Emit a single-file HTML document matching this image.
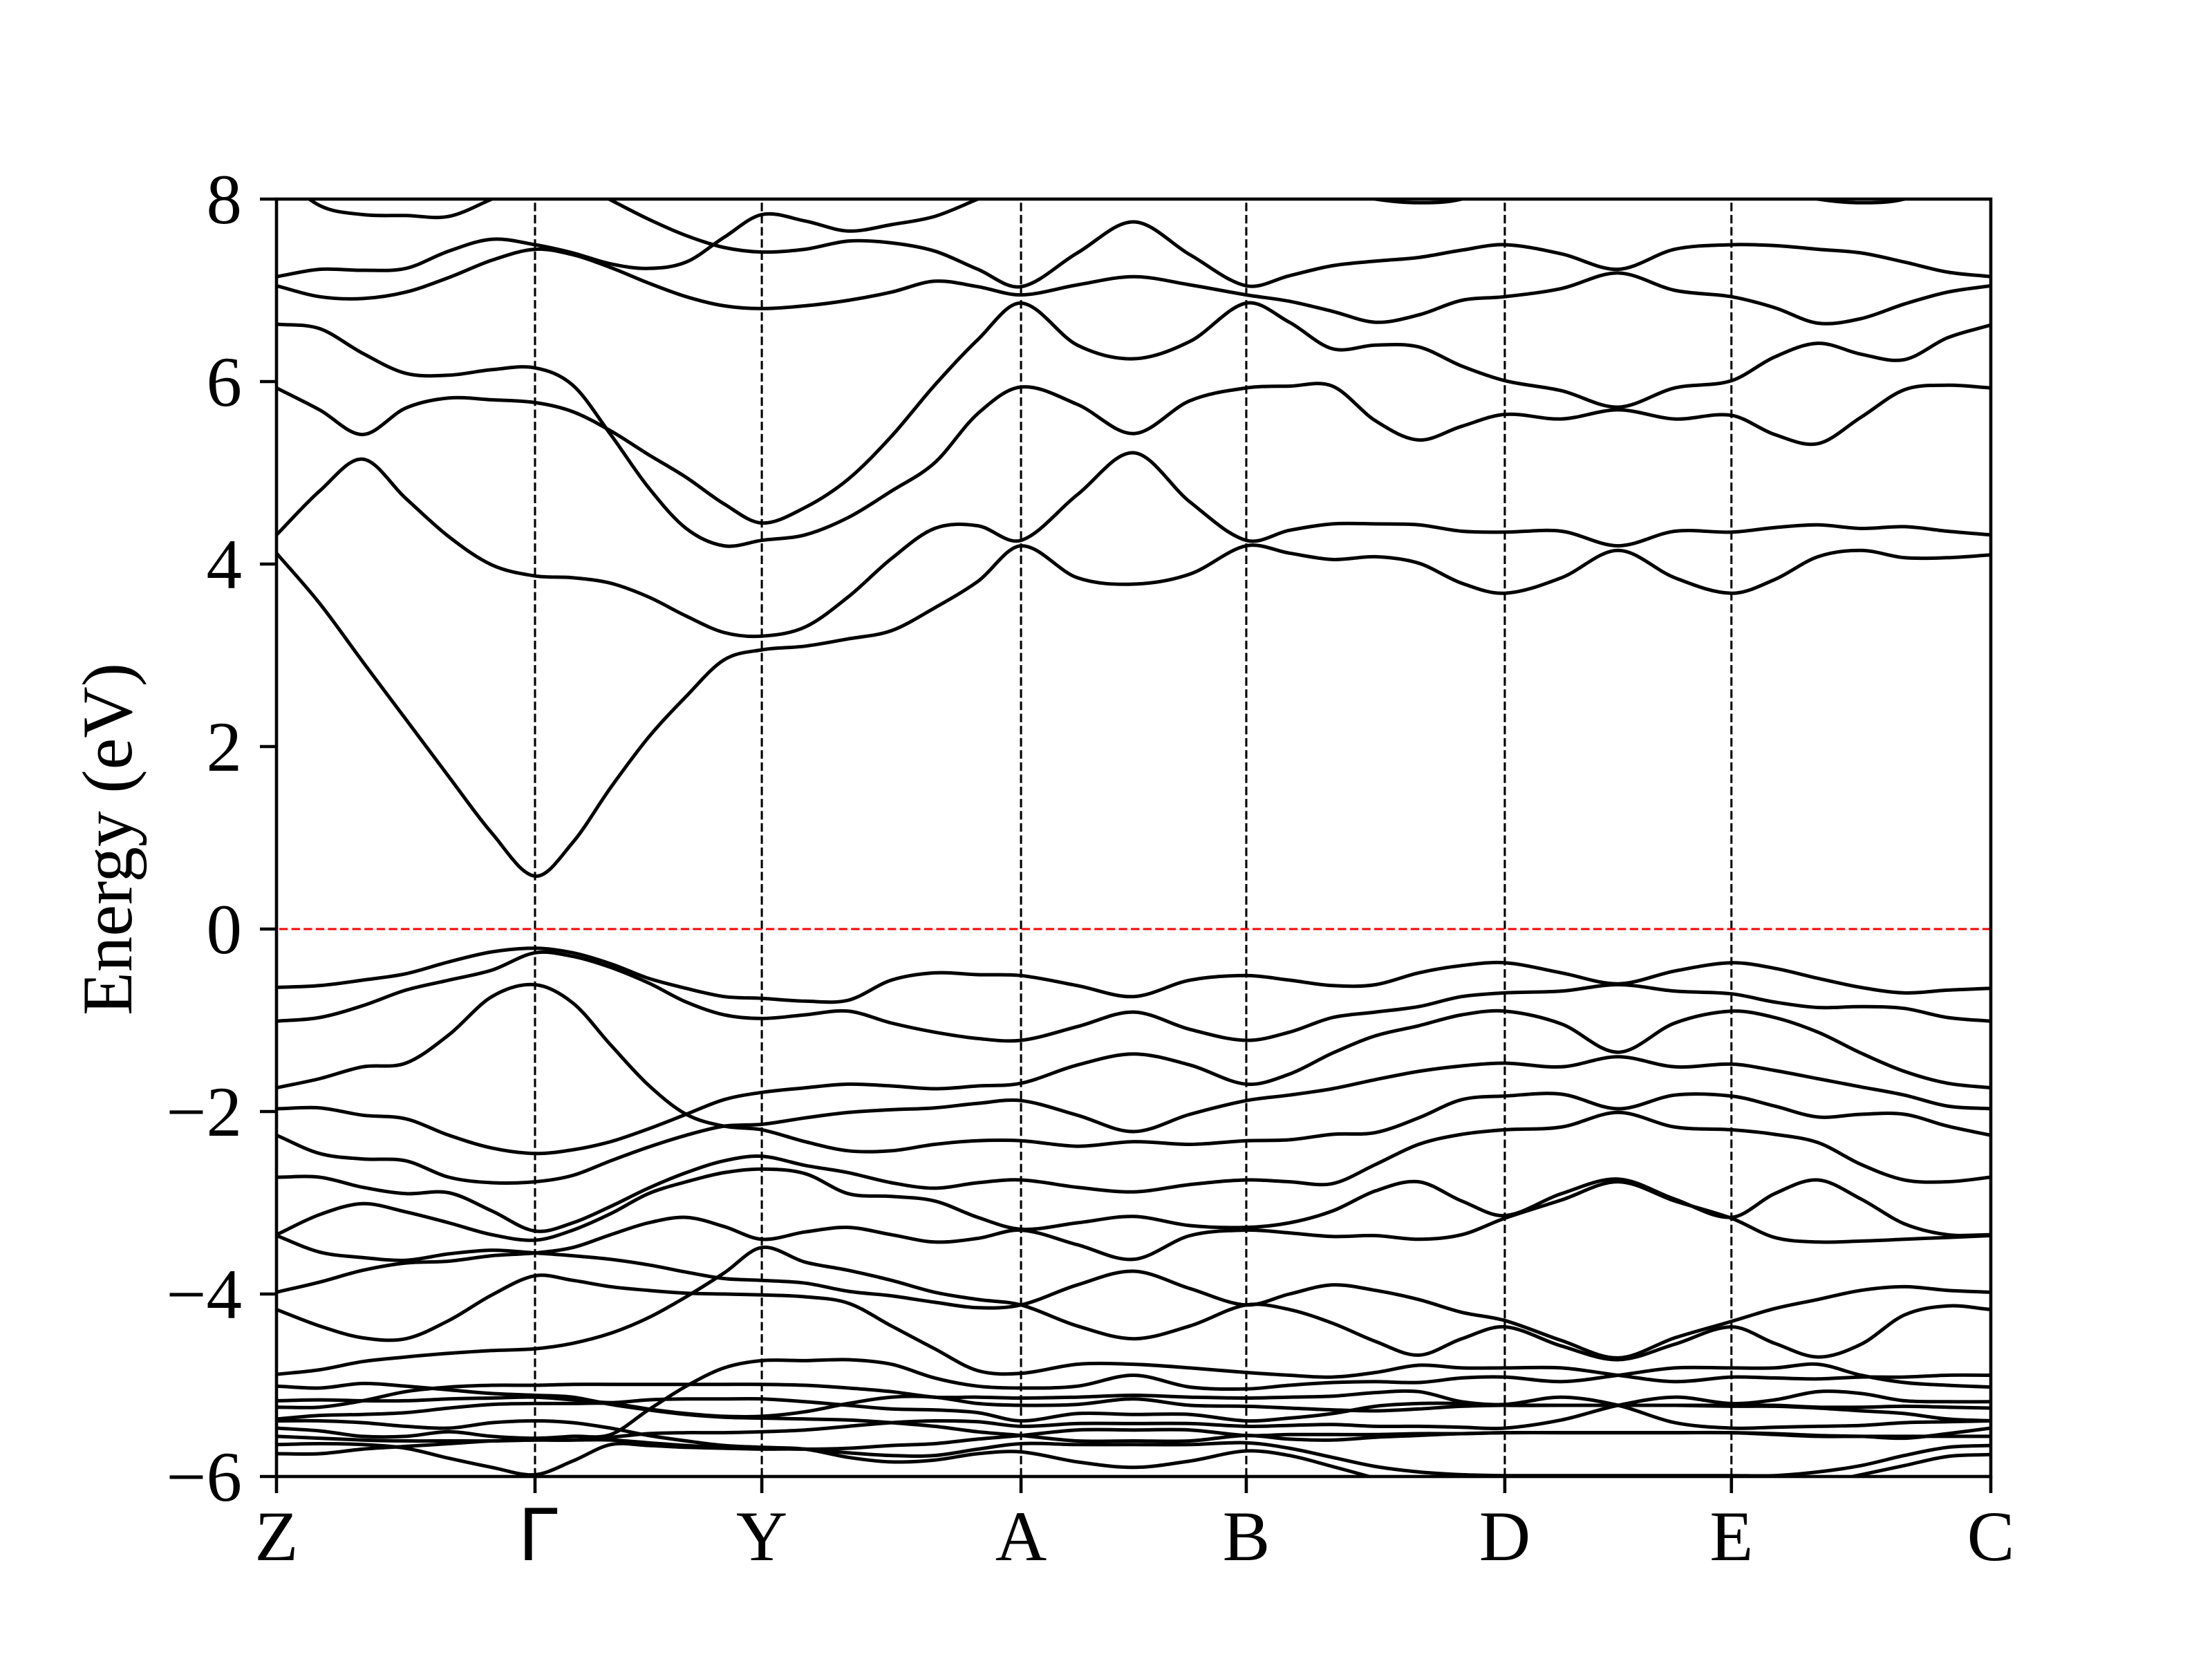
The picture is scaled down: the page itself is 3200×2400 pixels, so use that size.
<!DOCTYPE html>
<html lang="en">
<head>
<meta charset="utf-8">
<title>Band structure</title>
<style>
html,body{margin:0;padding:0;background:#fff}
svg{display:block}
text{font-family:"Liberation Serif","Times New Roman",serif;font-size:103px;fill:#000}
</style>
</head>
<body>
<svg id="chart" xmlns="http://www.w3.org/2000/svg" width="3200" height="2400" viewBox="0 0 3200 2400">
  <defs><clipPath id="plot-clip"><rect x="400" y="288" width="2480" height="1848"></rect></clipPath></defs>
  <rect x="0" y="0" width="3200" height="2400" fill="#fff"></rect>
  <g id="bands" clip-path="url(#plot-clip)"></g>
  <g id="guides"></g>
  <g id="ticks"></g>
  <text transform="translate(190,1214) rotate(-90)" text-anchor="middle">Energy (eV)</text>
  <rect x="400" y="288" width="2480" height="1848" fill="none" stroke="#000" stroke-width="4.6"></rect>
</svg>
<script>
const kNodes = [0, 0.1508, 0.2831, 0.4343, 0.5657, 0.7165, 0.8487, 1];
const kLabels = ["Z", "Γ", "Y", "A", "B", "D", "E", "C"];
const segmentSteps = [6, 6, 6, 4, 6, 4, 6];
const energyTicks = [-6, -4, -2, 0, 2, 4, 6, 8];
const energyTickLabels = ["−6", "−4", "−2", "0", "2", "4", "6", "8"];
const fermiLevel = 0;

const band01 = [8.3,7.93,7.83,7.82,7.81,8.0,8.2, 8.2,7.99,7.78,7.6,7.47,7.42, 7.45,7.54,7.52,7.43,7.23,7.04, 7.41,7.75,7.39,7.05, 7.16,7.27,7.32,7.36,7.44,7.5, 7.4,7.23,7.45,7.5, 7.49,7.45,7.41,7.31,7.2,7.15];
const band02 = [7.15,7.23,7.22,7.24,7.43,7.56,7.5, 7.41,7.29,7.24,7.31,7.58,7.83, 7.76,7.65,7.72,7.81,8.0,8.2, 8.35,8.4,8.35,8.25, 8.2,8.1,8.0,7.96,8.0,8.2, 8.3,8.3,8.3,8.2, 8.1,8.0,7.96,8.0,8.2,8.3];
const band03 = [7.05,6.93,6.91,6.98,7.14,7.33,7.45, 7.39,7.25,7.08,6.93,6.83,6.8, 6.83,6.89,6.98,7.1,7.04,6.95, 7.06,7.15,7.06,6.95, 6.88,6.77,6.65,6.73,6.89,6.93, 7.02,7.19,7.0,6.93, 6.81,6.64,6.69,6.85,6.98,7.05];
const band04 = [6.63,6.58,6.31,6.09,6.07,6.13,6.15, 5.96,5.42,4.84,4.39,4.2,4.26, 4.32,4.51,4.8,5.11,5.65,5.94, 5.75,5.43,5.79,5.93, 5.95,5.95,5.57,5.36,5.51,5.64, 5.59,5.69,5.59,5.63, 5.42,5.32,5.61,5.91,5.96,5.93];
const band05 = [5.93,5.69,5.42,5.71,5.82,5.8,5.77, 5.67,5.46,5.2,4.95,4.66,4.45, 4.62,4.93,5.4,5.96,6.46,6.86, 6.4,6.25,6.44,6.86, 6.65,6.36,6.4,6.38,6.17,6.01, 5.9,5.72,5.93,6.01, 6.27,6.42,6.3,6.24,6.48,6.62];
const band06 = [4.32,4.8,5.15,4.72,4.3,3.99,3.87, 3.85,3.79,3.64,3.43,3.25,3.21, 3.31,3.64,4.06,4.39,4.42,4.26, 4.76,5.22,4.68,4.26, 4.37,4.44,4.44,4.43,4.36,4.35, 4.36,4.2,4.36,4.35, 4.4,4.43,4.39,4.41,4.36,4.32];
const band07 = [4.12,3.57,2.93,2.3,1.67,1.05,0.58, 0.95,1.55,2.1,2.55,2.95,3.06, 3.1,3.18,3.27,3.52,3.81,4.2, 3.85,3.78,3.89,4.2, 4.12,4.05,4.08,4.01,3.79,3.68, 3.85,4.15,3.85,3.68, 3.83,4.08,4.15,4.07,4.07,4.1];
const band08 = [-0.64,-0.62,-0.56,-0.49,-0.36,-0.25,-0.21, -0.26,-0.38,-0.54,-0.65,-0.74,-0.76, -0.79,-0.78,-0.56,-0.48,-0.5,-0.51, -0.62,-0.74,-0.56,-0.51, -0.56,-0.62,-0.61,-0.48,-0.4,-0.37, -0.48,-0.6,-0.46,-0.37, -0.43,-0.54,-0.64,-0.7,-0.67,-0.65];
const band09 = [-1.01,-0.97,-0.84,-0.67,-0.56,-0.45,-0.26, -0.3,-0.42,-0.59,-0.8,-0.94,-0.98, -0.94,-0.9,-1.03,-1.13,-1.2,-1.22, -1.07,-0.91,-1.1,-1.22, -1.13,-0.97,-0.91,-0.85,-0.74,-0.7, -0.68,-0.61,-0.68,-0.71, -0.8,-0.86,-0.85,-0.87,-0.97,-1.01];
const band10 = [-1.74,-1.64,-1.51,-1.47,-1.16,-0.74,-0.61, -0.81,-1.27,-1.71,-2.03,-2.16,-2.2, -2.33,-2.43,-2.43,-2.36,-2.32,-2.32, -2.38,-2.33,-2.36,-2.32, -2.31,-2.25,-2.23,-2.07,-1.87,-1.83, -1.81,-1.97,-1.82,-1.83, -1.94,-2.06,-2.03,-2.03,-2.16,-2.26];
const band11 = [-1.97,-1.96,-2.04,-2.08,-2.26,-2.4,-2.46, -2.42,-2.33,-2.19,-2.03,-1.87,-1.79, -1.74,-1.7,-1.72,-1.75,-1.72,-1.69, -1.49,-1.37,-1.49,-1.7, -1.59,-1.36,-1.17,-1.06,-0.94,-0.9, -1.04,-1.35,-1.03,-0.9, -0.97,-1.13,-1.36,-1.56,-1.69,-1.74];
const band12 = [-2.26,-2.46,-2.52,-2.54,-2.72,-2.78,-2.77, -2.7,-2.54,-2.39,-2.26,-2.16,-2.14, -2.07,-2.01,-1.98,-1.96,-1.91,-1.88, -2.04,-2.22,-2.03,-1.88, -1.82,-1.75,-1.65,-1.56,-1.5,-1.47, -1.51,-1.4,-1.51,-1.48, -1.55,-1.64,-1.73,-1.82,-1.94,-1.97];
const band13 = [-2.72,-2.72,-2.83,-2.9,-2.89,-3.09,-3.31, -3.22,-3.04,-2.84,-2.67,-2.54,-2.49, -2.59,-2.67,-2.78,-2.84,-2.78,-2.75, -2.83,-2.88,-2.8,-2.75, -2.77,-2.79,-2.58,-2.36,-2.25,-2.2, -2.17,-2.01,-2.17,-2.2, -2.25,-2.34,-2.58,-2.75,-2.77,-2.72];
const band14 = [-3.35,-3.13,-3.01,-3.1,-3.22,-3.35,-3.41, -3.3,-3.12,-2.9,-2.77,-2.67,-2.63, -2.68,-2.9,-2.93,-2.98,-3.16,-3.29, -3.22,-3.15,-3.25,-3.27, -3.22,-3.09,-2.87,-2.77,-2.98,-3.14, -2.9,-2.74,-2.96,-3.16, -2.9,-2.75,-2.96,-3.23,-3.35,-3.35];
const band15 = [-3.36,-3.54,-3.6,-3.63,-3.56,-3.52,-3.55, -3.58,-3.62,-3.68,-3.76,-3.83,-3.85, -3.88,-3.97,-4.02,-4.09,-4.15,-4.12, -3.9,-3.75,-3.94,-4.12, -4.0,-3.9,-3.96,-4.06,-4.2,-4.29, -4.51,-4.7,-4.48,-4.3, -4.16,-4.06,-3.96,-3.92,-3.96,-3.98];
const band16 = [-3.98,-3.87,-3.74,-3.66,-3.64,-3.58,-3.55, -3.49,-3.35,-3.22,-3.16,-3.26,-3.4, -3.32,-3.27,-3.35,-3.43,-3.39,-3.3, -3.46,-3.62,-3.36,-3.3, -3.33,-3.37,-3.36,-3.4,-3.35,-3.17, -2.97,-2.77,-2.98,-3.17, -3.38,-3.43,-3.42,-3.4,-3.38,-3.36];
const band17 = [-4.17,-4.35,-4.48,-4.49,-4.29,-4.01,-3.8, -3.85,-3.92,-3.96,-3.99,-4.0,-4.01, -4.03,-4.1,-4.35,-4.6,-4.84,-4.87, -4.77,-4.77,-4.81,-4.86, -4.89,-4.91,-4.86,-4.78,-4.81,-4.81, -4.81,-4.89,-4.96,-4.91, -4.92,-4.93,-4.91,-4.91,-4.89,-4.89];
const band18 = [-4.88,-4.83,-4.74,-4.69,-4.65,-4.62,-4.6, -4.54,-4.43,-4.26,-4.03,-3.77,-3.49, -3.65,-3.74,-3.85,-3.98,-4.06,-4.12, -4.35,-4.49,-4.35,-4.12, -4.17,-4.32,-4.52,-4.67,-4.49,-4.36, -4.57,-4.72,-4.55,-4.36, -4.54,-4.69,-4.55,-4.23,-4.13,-4.17];
const band19 = [-5.01,-5.03,-4.98,-5.01,-5.05,-5.09,-5.11, -5.13,-5.21,-5.27,-5.32,-5.35,-5.36, -5.37,-5.38,-5.41,-5.45,-5.51,-5.55, -5.61,-5.61,-5.61,-5.55, -5.59,-5.6,-5.57,-5.55,-5.53,-5.52, -5.52,-5.52,-5.52,-5.52, -5.54,-5.56,-5.56,-5.56,-5.56,-5.56];
const band20 = [-5.17,-5.16,-5.17,-5.17,-5.15,-5.14,-5.13, -5.16,-5.19,-5.16,-5.15,-5.15,-5.15, -5.18,-5.22,-5.26,-5.27,-5.3,-5.39, -5.31,-5.32,-5.32,-5.39, -5.36,-5.31,-5.23,-5.2,-5.2,-5.22, -5.22,-5.22,-5.22,-5.23, -5.23,-5.25,-5.28,-5.31,-5.37,-5.39];
const band21 = [-5.24,-5.24,-5.17,-5.07,-5.02,-5.0,-5.0, -4.99,-4.99,-4.99,-4.99,-4.99,-4.99, -5.0,-5.03,-5.07,-5.13,-5.13,-5.14, -5.13,-5.11,-5.13,-5.14, -5.13,-5.12,-5.08,-5.07,-5.18,-5.21, -5.13,-5.22,-5.41,-5.47, -5.46,-5.45,-5.44,-5.41,-5.4,-5.39];
const band22 = [-5.37,-5.33,-5.32,-5.3,-5.25,-5.21,-5.2, -5.2,-5.2,-5.26,-5.31,-5.34,-5.34, -5.29,-5.2,-5.13,-5.13,-5.2,-5.22, -5.21,-5.15,-5.22,-5.23, -5.25,-5.27,-5.28,-5.26,-5.23,-5.22, -5.22,-5.22,-5.22,-5.22, -5.22,-5.24,-5.24,-5.23,-5.24,-5.25];
const band23 = [-5.39,-5.39,-5.41,-5.45,-5.47,-5.41,-5.39, -5.41,-5.47,-5.55,-5.61,-5.66,-5.68, -5.7,-5.79,-5.84,-5.82,-5.75,-5.73, -5.84,-5.9,-5.83,-5.72, -5.77,-5.89,-6.02,-6.16,-6.21,-6.21, -6.21,-6.21,-6.21,-6.21, -6.16,-6.08,-5.98,-5.88,-5.78,-5.76];
const band24 = [-5.47,-5.5,-5.56,-5.56,-5.51,-5.56,-5.58, -5.56,-5.54,-5.27,-5.01,-4.81,-4.73, -4.73,-4.72,-4.77,-4.92,-5.01,-5.03, -5.01,-4.89,-5.02,-5.04, -5.0,-4.97,-4.96,-4.97,-4.92,-4.91, -4.96,-4.89,-4.81,-4.81, -4.81,-4.77,-4.89,-4.97,-5.0,-5.02];
const band25 = [-5.56,-5.58,-5.6,-5.61,-5.61,-5.61,-5.6, -5.6,-5.6,-5.63,-5.66,-5.68,-5.69, -5.7,-5.69,-5.66,-5.64,-5.59,-5.55, -5.49,-5.49,-5.49,-5.55, -5.54,-5.54,-5.54,-5.53,-5.53,-5.52, -5.52,-5.52,-5.52,-5.52, -5.53,-5.55,-5.56,-5.58,-5.53,-5.47];
const band26 = [-5.65,-5.64,-5.65,-5.69,-5.8,-5.9,-5.98, -5.83,-5.65,-5.66,-5.68,-5.69,-5.7, -5.7,-5.74,-5.77,-5.77,-5.7,-5.64, -5.65,-5.65,-5.65,-5.63, -5.69,-5.79,-5.89,-5.95,-5.98,-5.99, -5.99,-5.99,-5.99,-5.99, -5.99,-5.95,-5.88,-5.77,-5.68,-5.66];
const band27 = [-5.75,-5.75,-5.7,-5.67,-5.64,-5.61,-5.6, -5.6,-5.57,-5.53,-5.52,-5.52,-5.51, -5.49,-5.45,-5.41,-5.39,-5.4,-5.45, -5.42,-5.42,-5.42,-5.45, -5.44,-5.43,-5.45,-5.45,-5.46,-5.47, -5.38,-5.22,-5.13,-5.2, -5.16,-5.07,-5.09,-5.17,-5.18,-5.18];

const bands = [band01,band02,band03,band04,band05,band06,band07,band08,band09,band10,band11,band12,band13,band14,band15,band16,band17,band18,band19,band20,band21,band22,band23,band24,band25,band26,band27];

const SVG_NS = "http://www.w3.org/2000/svg";
const plotLeft = 400, plotRight = 2880, plotTop = 288, plotBottom = 2136;
const energyMin = -6, energyMax = 8;
const xScale = k => plotLeft + (plotRight - plotLeft) * k;
const yScale = e => plotTop + (energyMax - e) / (energyMax - energyMin) * (plotBottom - plotTop);

function buildGrid() {
  const grid = [];
  segmentSteps.forEach((steps, s) => {
    for (let i = 0; i < steps; i++) grid.push(kNodes[s] + (kNodes[s + 1] - kNodes[s]) * i / steps);
  });
  grid.push(kNodes[kNodes.length - 1]);
  return grid;
}
const kGrid = buildGrid();

function smoothPath(values) {
  const pts = values.map((e, i) => [xScale(kGrid[i]), yScale(e)]);
  const n = pts.length;
  const slope = pts.map((p, i) => {
    const a = pts[Math.max(i - 1, 0)], b = pts[Math.min(i + 1, n - 1)];
    return (b[1] - a[1]) / (b[0] - a[0]);
  });
  let d = "M" + pts[0][0].toFixed(1) + " " + pts[0][1].toFixed(1);
  for (let i = 0; i < n - 1; i++) {
    const h = (pts[i + 1][0] - pts[i][0]) / 3;
    d += "C" + (pts[i][0] + h).toFixed(1) + " " + (pts[i][1] + slope[i] * h).toFixed(1) + " " +
         (pts[i + 1][0] - h).toFixed(1) + " " + (pts[i + 1][1] - slope[i + 1] * h).toFixed(1) + " " +
         pts[i + 1][0].toFixed(1) + " " + pts[i + 1][1].toFixed(1);
  }
  return d;
}

function make(tag, attrs, parent) {
  const el = document.createElementNS(SVG_NS, tag);
  for (const key in attrs) el.setAttribute(key, attrs[key]);
  parent.appendChild(el);
  return el;
}

const bandLayer = document.getElementById("bands");
const guideLayer = document.getElementById("guides");
const tickLayer = document.getElementById("ticks");

bands.forEach((values) => {
  const path = make("path", { d: smoothPath(values), fill: "none", stroke: "#000", "stroke-width": 5, "stroke-linejoin": "round" }, bandLayer);
  
  
});

kNodes.slice(1, -1).forEach((k) => {
  const line = make("line", { x1: xScale(k), x2: xScale(k), y1: plotBottom, y2: plotTop, stroke: "#000", "stroke-width": 3.1, "stroke-dasharray": "12.3 5.3" }, guideLayer);
  
  
});

const fermi = make("line", { x1: xScale(0), x2: xScale(1), y1: yScale(fermiLevel), y2: yScale(fermiLevel), stroke: "#f00", "stroke-width": 3.1, "stroke-dasharray": "12.3 5.3", "stroke-dashoffset": 13.6 }, guideLayer);



energyTicks.forEach((e, i) => {
  const tick = make("line", { x1: plotLeft - 24, x2: plotLeft, y1: yScale(e), y2: yScale(e), stroke: "#000", "stroke-width": 4.6 }, tickLayer);
  
  
  const label = make("text", { x: 350, y: yScale(e) + 35, "text-anchor": "end" }, tickLayer);
  
  
  label.textContent = energyTickLabels[i];
});

kNodes.forEach((k, i) => {
  const tick = make("line", { x1: xScale(k), x2: xScale(k), y1: plotBottom, y2: plotBottom + 24, stroke: "#000", "stroke-width": 4.6 }, tickLayer);
  
  
  const isGamma = kLabels[i] === "Γ";
  const label = make("text", { x: xScale(k) + (isGamma ? 4 : 0), y: 2257, "text-anchor": "middle" }, tickLayer);
  if (isGamma) label.setAttribute("style", "font-family:'DejaVu Sans',sans-serif");
  
  
  label.textContent = kLabels[i];
});
</script>
</body>
</html>
